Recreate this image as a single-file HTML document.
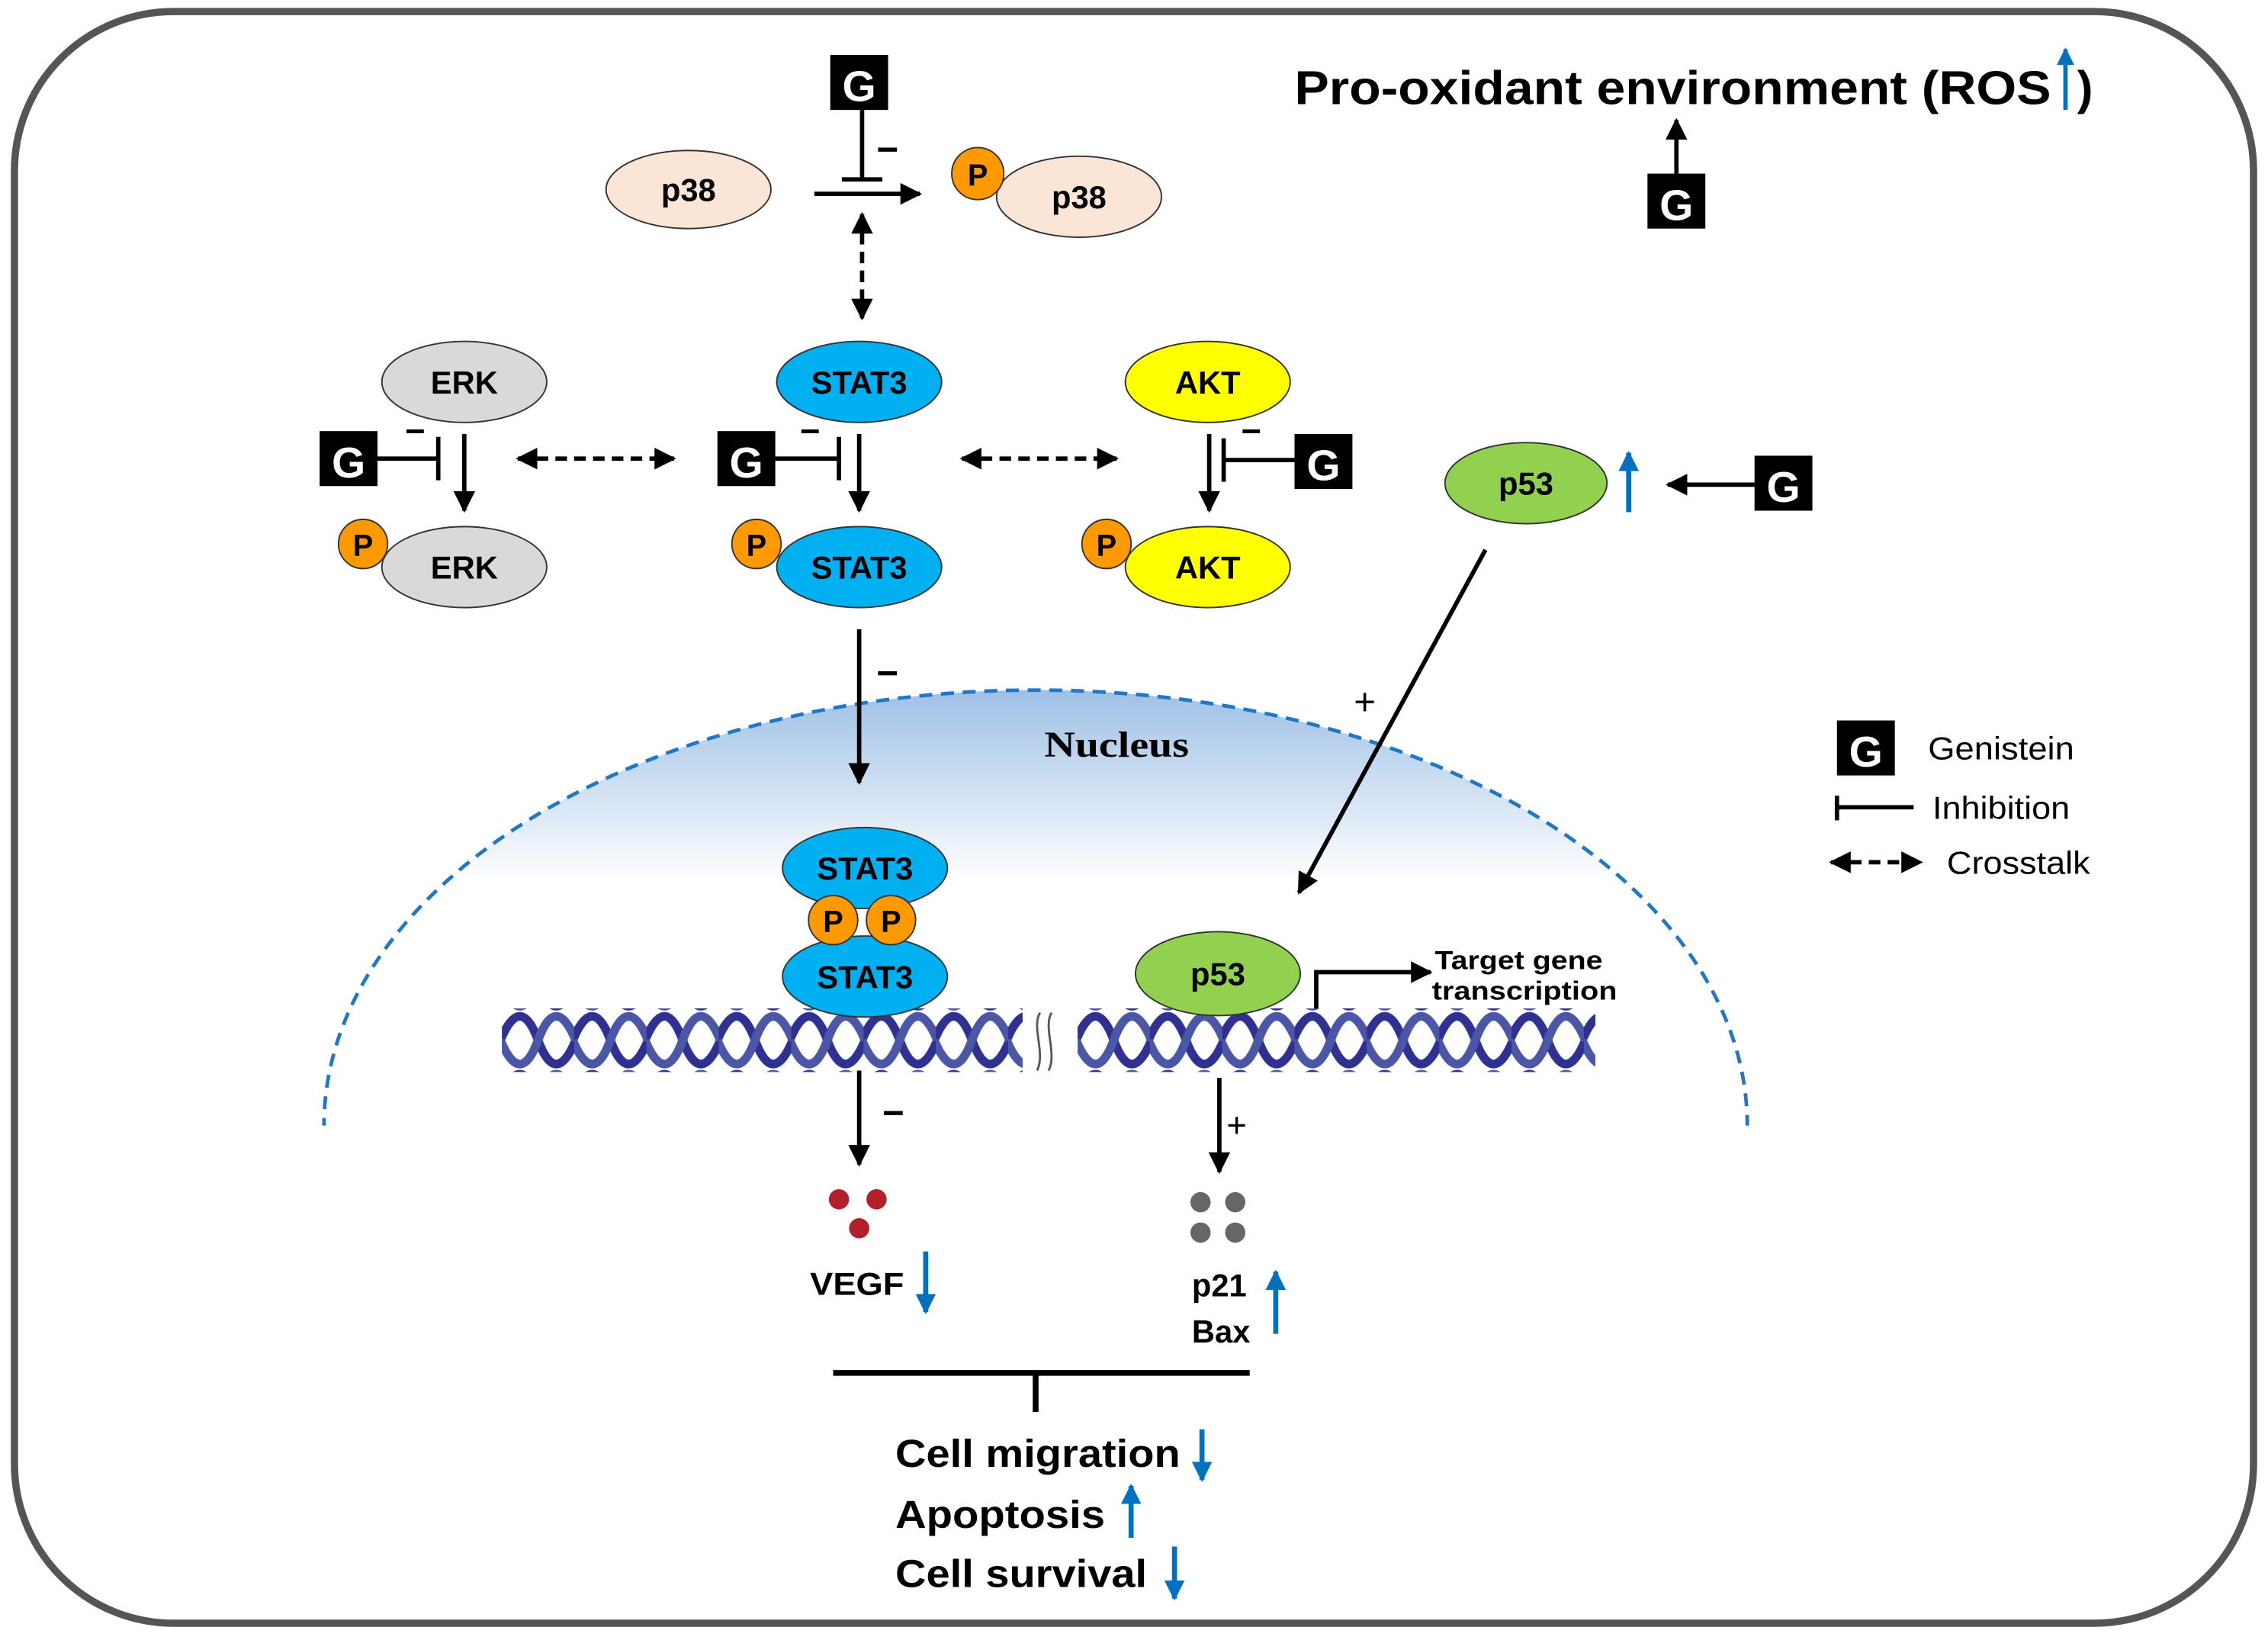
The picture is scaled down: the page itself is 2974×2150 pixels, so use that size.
<!DOCTYPE html>
<html><head><meta charset="utf-8"><style>
html,body{margin:0;padding:0;background:#fff;}
svg{display:block;}
text{font-family:"Liberation Sans",Arial,sans-serif;font-weight:bold;}
</style></head><body>
<svg width="2974" height="2150" viewBox="0 0 1568 1133.6" preserveAspectRatio="none" xmlns="http://www.w3.org/2000/svg">
<defs>
<marker id="ah" viewBox="0 0 10 10" refX="9" refY="5" markerWidth="5" markerHeight="5" orient="auto-start-reverse"><path d="M0,0L10,5L0,10z" fill="#000"/></marker>
<marker id="bh" viewBox="0 0 10 10" refX="9" refY="5" markerWidth="4" markerHeight="4" orient="auto"><path d="M0,0L10,5L0,10z" fill="#0070c0"/></marker>
<linearGradient id="ng" x1="0" y1="0" x2="0" y2="1">
<stop offset="0" stop-color="#9ec0e6"/><stop offset="0.22" stop-color="#ffffff"/></linearGradient>
<pattern id="dna" patternUnits="userSpaceOnUse" x="347" y="699" width="50" height="40">
<path d="M-1,20 C8,-2 17,-2 25,20 C33,42 42,42 51,20" fill="none" stroke="#2e3192" stroke-width="6"/>
<path d="M-1,20 C8,42 17,42 25,20 C33,-2 42,-2 51,20" fill="none" stroke="#4a56a6" stroke-width="6"/>
</pattern>
<pattern id="dna2" patternUnits="userSpaceOnUse" x="745" y="699" width="50" height="40">
<path d="M-1,20 C8,-2 17,-2 25,20 C33,42 42,42 51,20" fill="none" stroke="#2e3192" stroke-width="6"/>
<path d="M-1,20 C8,42 17,42 25,20 C33,-2 42,-2 51,20" fill="none" stroke="#4a56a6" stroke-width="6"/>
</pattern>
<clipPath id="nc"><rect x="0" y="0" width="1568" height="778"/></clipPath>
</defs>
<rect x="10" y="8" width="1548" height="1114" rx="110" fill="#fff" stroke="#555" stroke-width="5"/>

<g clip-path="url(#nc)">
<ellipse cx="716" cy="778" rx="492" ry="301" fill="url(#ng)" stroke="#1f77c8" stroke-width="2.5" stroke-dasharray="9,6"/>
</g>
<text x="722" y="523" font-size="25" textLength="100" lengthAdjust="spacingAndGlyphs" style="font-family:'Liberation Serif',serif">Nucleus</text>

<rect x="574" y="38" width="40" height="38" fill="#000"/><text x="594" y="70" font-size="30" fill="#fff" text-anchor="middle">G</text>
<line x1="596" y1="76" x2="596" y2="124" stroke="#000" stroke-width="3"/>
<line x1="582" y1="124" x2="610" y2="124" stroke="#000" stroke-width="3"/>
<text x="606" y="112" font-size="26">−</text>
<line x1="563" y1="134" x2="636" y2="134" stroke="#000" stroke-width="3" marker-end="url(#ah)"/>
<ellipse cx="476" cy="131" rx="57" ry="27" fill="#fbe5d6" stroke="#333" stroke-width="1"/>
<text x="476" y="139" font-size="22" text-anchor="middle">p38</text>
<ellipse cx="746" cy="136" rx="57" ry="28" fill="#fbe5d6" stroke="#333" stroke-width="1"/>
<text x="746" y="144" font-size="22" text-anchor="middle">p38</text>
<circle cx="676" cy="120" r="18" fill="#ff9900" stroke="#333"/><text x="676" y="128" font-size="21" text-anchor="middle">P</text>
<line x1="596" y1="148" x2="596" y2="220" stroke="#000" stroke-width="3" stroke-dasharray="8,5" marker-start="url(#ah)" marker-end="url(#ah)"/>

<text x="895" y="72" font-size="33" textLength="523" lengthAdjust="spacingAndGlyphs">Pro-oxidant environment (ROS</text>
<line x1="1428" y1="76" x2="1428" y2="34" stroke="#0070c0" stroke-width="3" marker-end="url(#bh)"/>
<text x="1436" y="72" font-size="33">)</text>
<rect x="1139" y="120" width="40" height="38" fill="#000"/><text x="1159" y="152" font-size="30" fill="#fff" text-anchor="middle">G</text>
<line x1="1159" y1="120" x2="1159" y2="83" stroke="#000" stroke-width="3" marker-end="url(#ah)"/>

<ellipse cx="321" cy="264" rx="57" ry="28" fill="#d9d9d9" stroke="#333"/><text x="321" y="272" font-size="22" text-anchor="middle">ERK</text>
<ellipse cx="594" cy="264" rx="57" ry="28" fill="#00b0f0" stroke="#333"/><text x="594" y="272" font-size="22" text-anchor="middle">STAT3</text>
<ellipse cx="835" cy="264" rx="57" ry="28" fill="#ffff00" stroke="#333"/><text x="835" y="272" font-size="22" text-anchor="middle">AKT</text>

<ellipse cx="321" cy="392" rx="57" ry="28" fill="#d9d9d9" stroke="#333"/><text x="321" y="400" font-size="22" text-anchor="middle">ERK</text>
<circle cx="251" cy="376" r="17" fill="#ff9900" stroke="#333"/><text x="251" y="384" font-size="21" text-anchor="middle">P</text>
<ellipse cx="594" cy="392" rx="57" ry="28" fill="#00b0f0" stroke="#333"/><text x="594" y="400" font-size="22" text-anchor="middle">STAT3</text>
<circle cx="523" cy="376" r="17" fill="#ff9900" stroke="#333"/><text x="523" y="384" font-size="21" text-anchor="middle">P</text>
<ellipse cx="835" cy="392" rx="57" ry="28" fill="#ffff00" stroke="#333"/><text x="835" y="400" font-size="22" text-anchor="middle">AKT</text>
<circle cx="765" cy="376" r="17" fill="#ff9900" stroke="#333"/><text x="765" y="384" font-size="21" text-anchor="middle">P</text>

<rect x="221" y="298" width="40" height="38" fill="#000"/><text x="241" y="330" font-size="30" fill="#fff" text-anchor="middle">G</text>
<line x1="261" y1="317" x2="303" y2="317" stroke="#000" stroke-width="3"/>
<line x1="303" y1="302" x2="303" y2="332" stroke="#000" stroke-width="3"/>
<text x="280" y="306" font-size="24">−</text>
<line x1="321" y1="300" x2="321" y2="353" stroke="#000" stroke-width="3" marker-end="url(#ah)"/>
<rect x="496" y="298" width="40" height="38" fill="#000"/><text x="516" y="330" font-size="30" fill="#fff" text-anchor="middle">G</text>
<line x1="536" y1="317" x2="580" y2="317" stroke="#000" stroke-width="3"/>
<line x1="580" y1="302" x2="580" y2="332" stroke="#000" stroke-width="3"/>
<text x="553" y="306" font-size="24">−</text>
<line x1="594" y1="300" x2="594" y2="353" stroke="#000" stroke-width="3" marker-end="url(#ah)"/>
<rect x="895" y="300" width="40" height="38" fill="#000"/><text x="915" y="332" font-size="30" fill="#fff" text-anchor="middle">G</text>
<line x1="895" y1="318" x2="846" y2="318" stroke="#000" stroke-width="3"/>
<line x1="846" y1="303" x2="846" y2="333" stroke="#000" stroke-width="3"/>
<text x="858" y="306" font-size="24">−</text>
<line x1="836" y1="300" x2="836" y2="353" stroke="#000" stroke-width="3" marker-end="url(#ah)"/>

<line x1="358" y1="317" x2="466" y2="317" stroke="#000" stroke-width="3" stroke-dasharray="8,5" marker-start="url(#ah)" marker-end="url(#ah)"/>
<line x1="665" y1="317" x2="772" y2="317" stroke="#000" stroke-width="3" stroke-dasharray="8,5" marker-start="url(#ah)" marker-end="url(#ah)"/>

<ellipse cx="1055" cy="334" rx="56" ry="28" fill="#92d050" stroke="#333"/><text x="1055" y="342" font-size="22" text-anchor="middle">p53</text>
<line x1="1126" y1="354" x2="1126" y2="313" stroke="#0070c0" stroke-width="3.5" marker-end="url(#bh)"/>
<rect x="1213" y="315" width="40" height="38" fill="#000"/><text x="1233" y="347" font-size="30" fill="#fff" text-anchor="middle">G</text>
<line x1="1213" y1="335" x2="1153" y2="335" stroke="#000" stroke-width="3" marker-end="url(#ah)"/>
<line x1="1027" y1="380" x2="898" y2="617" stroke="#000" stroke-width="3" marker-end="url(#ah)"/>
<text x="936" y="494" font-size="26" style="font-weight:normal">+</text>

<line x1="594" y1="435" x2="594" y2="541" stroke="#000" stroke-width="3" marker-end="url(#ah)"/>
<text x="606" y="474" font-size="26">−</text>

<rect x="1270" y="498" width="40" height="38" fill="#000"/><text x="1290" y="530" font-size="30" fill="#fff" text-anchor="middle">G</text>
<text x="1333" y="525" font-size="22" textLength="101" lengthAdjust="spacingAndGlyphs" style="font-weight:normal">Genistein</text>
<line x1="1270" y1="550" x2="1270" y2="567" stroke="#000" stroke-width="3"/>
<line x1="1270" y1="558" x2="1323" y2="558" stroke="#000" stroke-width="3"/>
<text x="1336" y="566" font-size="22" textLength="95" lengthAdjust="spacingAndGlyphs" style="font-weight:normal">Inhibition</text>
<line x1="1266" y1="596" x2="1328" y2="596" stroke="#000" stroke-width="3" stroke-dasharray="8,5" marker-start="url(#ah)" marker-end="url(#ah)"/>
<text x="1346" y="604" font-size="22" textLength="99" lengthAdjust="spacingAndGlyphs" style="font-weight:normal">Crosstalk</text>

<rect x="347" y="697" width="360" height="44" fill="url(#dna)"/>
<rect x="745" y="697" width="358" height="44" fill="url(#dna2)"/>
<path d="M719,700 C713,710 723,728 717,740 M727,700 C721,710 731,728 725,740" fill="none" stroke="#556" stroke-width="1.5"/>

<ellipse cx="598" cy="675" rx="57" ry="28" fill="#00b0f0" stroke="#333"/><text x="598" y="683" font-size="22" text-anchor="middle">STAT3</text>
<ellipse cx="598" cy="600" rx="57" ry="28" fill="#00b0f0" stroke="#333"/><text x="598" y="608" font-size="22" text-anchor="middle">STAT3</text>
<circle cx="576" cy="636" r="17" fill="#ff9900" stroke="#333"/><text x="576" y="644" font-size="21" text-anchor="middle">P</text>
<circle cx="616" cy="636" r="17" fill="#ff9900" stroke="#333"/><text x="616" y="644" font-size="21" text-anchor="middle">P</text>

<ellipse cx="842" cy="673" rx="57" ry="29" fill="#92d050" stroke="#333"/><text x="842" y="681" font-size="22" text-anchor="middle">p53</text>
<path d="M910,697 L910,672 L989,672" fill="none" stroke="#000" stroke-width="3" marker-end="url(#ah)"/>
<text x="992" y="670" font-size="18" textLength="116" lengthAdjust="spacingAndGlyphs">Target gene</text>
<text x="990" y="691" font-size="18" textLength="128" lengthAdjust="spacingAndGlyphs">transcription</text>

<line x1="594" y1="740" x2="594" y2="805" stroke="#000" stroke-width="3" marker-end="url(#ah)"/>
<text x="610" y="778" font-size="26">−</text>
<line x1="843" y1="745" x2="843" y2="810" stroke="#000" stroke-width="3" marker-end="url(#ah)"/>
<text x="848" y="786" font-size="24" style="font-weight:normal">+</text>
<circle cx="580" cy="829" r="7" fill="#b3202a"/><circle cx="606" cy="829" r="7" fill="#b3202a"/><circle cx="594" cy="849" r="7" fill="#b3202a"/>
<circle cx="830" cy="831" r="7" fill="#666"/><circle cx="854" cy="831" r="7" fill="#666"/><circle cx="830" cy="852" r="7" fill="#666"/><circle cx="854" cy="852" r="7" fill="#666"/>
<text x="560" y="895" font-size="22" textLength="65" lengthAdjust="spacingAndGlyphs">VEGF</text>
<line x1="640" y1="865" x2="640" y2="907" stroke="#0070c0" stroke-width="3.5" marker-end="url(#bh)"/>
<text x="824" y="896" font-size="22">p21</text>
<text x="824" y="928" font-size="22">Bax</text>
<line x1="882" y1="922" x2="882" y2="879" stroke="#0070c0" stroke-width="3.5" marker-end="url(#bh)"/>

<line x1="576" y1="949" x2="864" y2="949" stroke="#000" stroke-width="4"/>
<line x1="716" y1="949" x2="716" y2="976" stroke="#000" stroke-width="4"/>
<text x="619" y="1014" font-size="27" textLength="197" lengthAdjust="spacingAndGlyphs">Cell migration</text>
<line x1="831" y1="988" x2="831" y2="1023" stroke="#0070c0" stroke-width="3.5" marker-end="url(#bh)"/>
<text x="619" y="1056" font-size="27" textLength="145" lengthAdjust="spacingAndGlyphs">Apoptosis</text>
<line x1="782" y1="1063" x2="782" y2="1027" stroke="#0070c0" stroke-width="3.5" marker-end="url(#bh)"/>
<text x="619" y="1097" font-size="27" textLength="174" lengthAdjust="spacingAndGlyphs">Cell survival</text>
<line x1="812" y1="1069" x2="812" y2="1105" stroke="#0070c0" stroke-width="3.5" marker-end="url(#bh)"/>
</svg>
</body></html>
